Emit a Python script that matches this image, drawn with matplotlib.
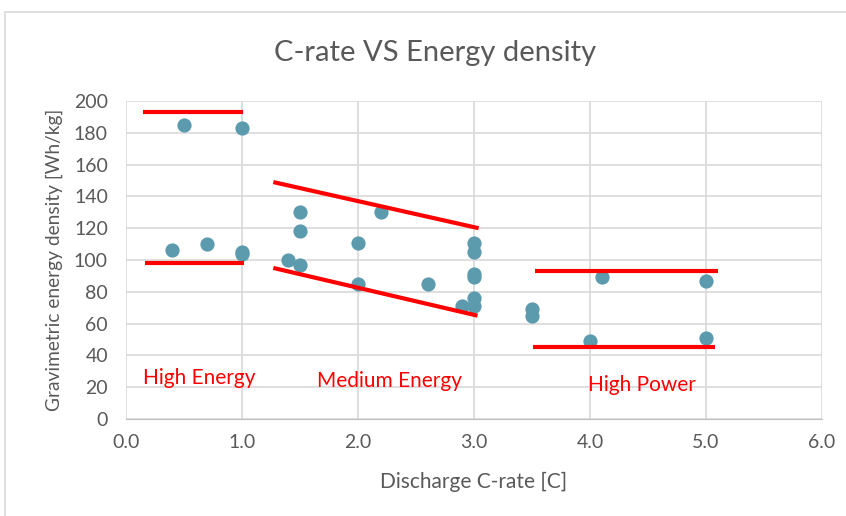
import matplotlib.pyplot as plt
from matplotlib.patches import Rectangle

# data
c_rate = [0.5, 1.0, 0.4, 0.7, 1.0, 1.0, 1.4, 1.5, 1.5, 1.5, 2.0, 2.0, 2.2, 2.6, 2.9,
          3.0, 3.0, 3.0, 3.0, 3.0, 3.0, 3.5, 3.5, 4.1, 4.0, 5.0, 5.0]
energy = [185, 183, 106, 110, 105, 104, 100, 97, 118, 130, 111, 85, 130, 85, 71,
          111, 105, 91, 89, 76, 71, 69, 65, 89, 49, 87, 51]

# group boundary lines: (x0, x1, y0, y1)
bounds = [
    (0.15, 1.01, 193, 193),
    (0.16, 1.02, 98, 98),
    (1.27, 3.04, 149, 120),
    (1.27, 3.03, 95, 65),
    (3.53, 5.10, 93, 93),
    (3.51, 5.08, 45, 45),
]
group_labels = ["High Energy", "Medium Energy", "High Power"]
label_x = [0.15, 1.65, 3.98]
label_y = [26, 24, 21.5]

grey = "#595959"
plt.rcParams["font.family"] = ["Lato", "DejaVu Sans"]

fig = plt.figure(figsize=(8.46, 5.16), dpi=100)
fig.patches.append(Rectangle((5 / 846, -0.1), 1.2, 1.1 - 12 / 516, transform=fig.transFigure,
                             fill=False, edgecolor="#d9d9d9", linewidth=1.2))
ax = fig.add_axes([126 / 846, 1 - 419 / 516, 696 / 846, 318 / 516])

ax.grid(True, color="#d9d9d9", linewidth=1.2)
ax.set_axisbelow(True)
for s in ax.spines.values():
    s.set_visible(False)
ax.spines["bottom"].set_visible(True)
ax.spines["bottom"].set_color("#bfbfbf")

ax.scatter(c_rate, energy, s=105, color="#5b9bad", zorder=3, linewidths=0)
for x0, x1, y0, y1 in bounds:
    ax.plot([x0, x1], [y0, y1], color="#ff0000", linewidth=3, solid_capstyle="butt", zorder=4)
for t, x, y in zip(group_labels, label_x, label_y):
    ax.text(x, y, t, color="#ff0000", fontsize=15, va="center", ha="left")

ax.set_xlim(0, 6)
ax.set_ylim(0, 200)
ax.set_xticks([0, 1, 2, 3, 4, 5, 6])
ax.set_xticklabels(["0.0", "1.0", "2.0", "3.0", "4.0", "5.0", "6.0"])
ax.set_yticks(range(0, 201, 20))
ax.tick_params(axis="y", length=0, labelsize=14, labelcolor=grey, pad=13)
ax.tick_params(axis="x", length=0, labelsize=14, labelcolor=grey, pad=11)

ax.set_xlabel("Discharge C-rate [C]", fontsize=15, color=grey, labelpad=15)
ax.set_ylabel("Gravimetric energy density [Wh/kg]", fontsize=13.8, color=grey, labelpad=8)
fig.text(435 / 846, 1 - 53 / 516, "C-rate VS Energy density", fontsize=21, color=grey,
         ha="center", va="center")

fig.savefig("out.png", dpi=100)
